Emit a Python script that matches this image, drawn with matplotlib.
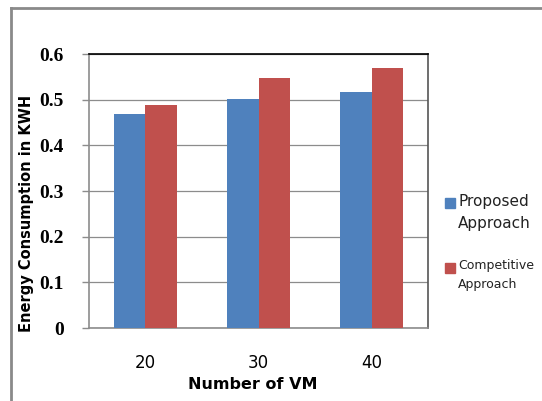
import numpy as np
import matplotlib
matplotlib.use("Agg")
import matplotlib.pyplot as plt
from matplotlib.lines import Line2D
from matplotlib.patches import Rectangle

categories = ["20", "30", "40"]
proposed = [0.468, 0.501, 0.518]
competitive = [0.488, 0.547, 0.569]
y_ticks = [0, 0.1, 0.2, 0.3, 0.4, 0.5, 0.6]
series_names = ["Proposed\nApproach", "Competitive\nApproach"]

blue = "#4F81BD"
red = "#C0504D"
grid_c = "#8C8C8C"

fig = plt.figure(figsize=(5.42, 4.01), dpi=100)
ax = fig.add_axes([0.164, 0.182, 0.626, 0.683])

x = np.arange(len(categories)) + 0.5
w = 0.28
ax.bar(x - w / 2, proposed, w, color=blue, zorder=3)
ax.bar(x + w / 2, competitive, w, color=red, zorder=3)

ax.set_xlim(0, 3)
ax.set_ylim(0, 0.6)
ax.set_yticks(y_ticks)
ax.set_yticklabels([("%g" % v) for v in y_ticks])
for lab in ax.get_yticklabels():
    lab.set_family("Liberation Serif")
    lab.set_fontweight("bold")
    lab.set_fontsize(14)
ax.set_xticks(x)
ax.set_xticklabels(categories)
for lab in ax.get_xticklabels():
    lab.set_fontsize(12)
ax.tick_params(axis="x", length=0, pad=19)
ax.tick_params(axis="y", length=5, pad=13, color=grid_c, width=1)
ax.yaxis.grid(True, color=grid_c, linewidth=0.9, zorder=0)

ax.spines["left"].set_color(grid_c)
ax.spines["bottom"].set_color(grid_c)
ax.spines["top"].set_color("black")
ax.spines["right"].set_color("#555555")
for s in ax.spines.values():
    s.set_linewidth(1.2)

ax.set_ylabel("Energy Consumption in KWH", fontsize=10.5, fontweight="bold")
ax.yaxis.set_label_coords(-0.163, 0.42)
ax.set_xlabel("Number of VM", fontsize=11.5, fontweight="bold")
ax.xaxis.set_label_coords(0.484, -0.18)

# legend drawn by hand (two-line entries)
W, H = 542.0, 401.0
leg_items = [(series_names[0], blue, 203, 11, 1.55), (series_names[1], red, 268, 9, 1.6)]
for name, col, yc, fs, ls in leg_items:
    fig.add_artist(Rectangle((445 / W, 1 - (yc + 5) / H), 10 / W, 10 / H,
                             transform=fig.transFigure, color=col))
    fig.text(458 / W, 1 - (yc - 9) / H, name, fontsize=fs, va="top", ha="left",
             linespacing=ls, color="#222222")

# outer chart frame (top and left visible)
fig.add_artist(Line2D([0.021, 1.0], [0.981, 0.981], color="#8A8A8A", lw=2))
fig.add_artist(Line2D([0.021, 0.021], [0.0, 0.981], color="#8A8A8A", lw=2))

fig.savefig("out.png", dpi=100)
